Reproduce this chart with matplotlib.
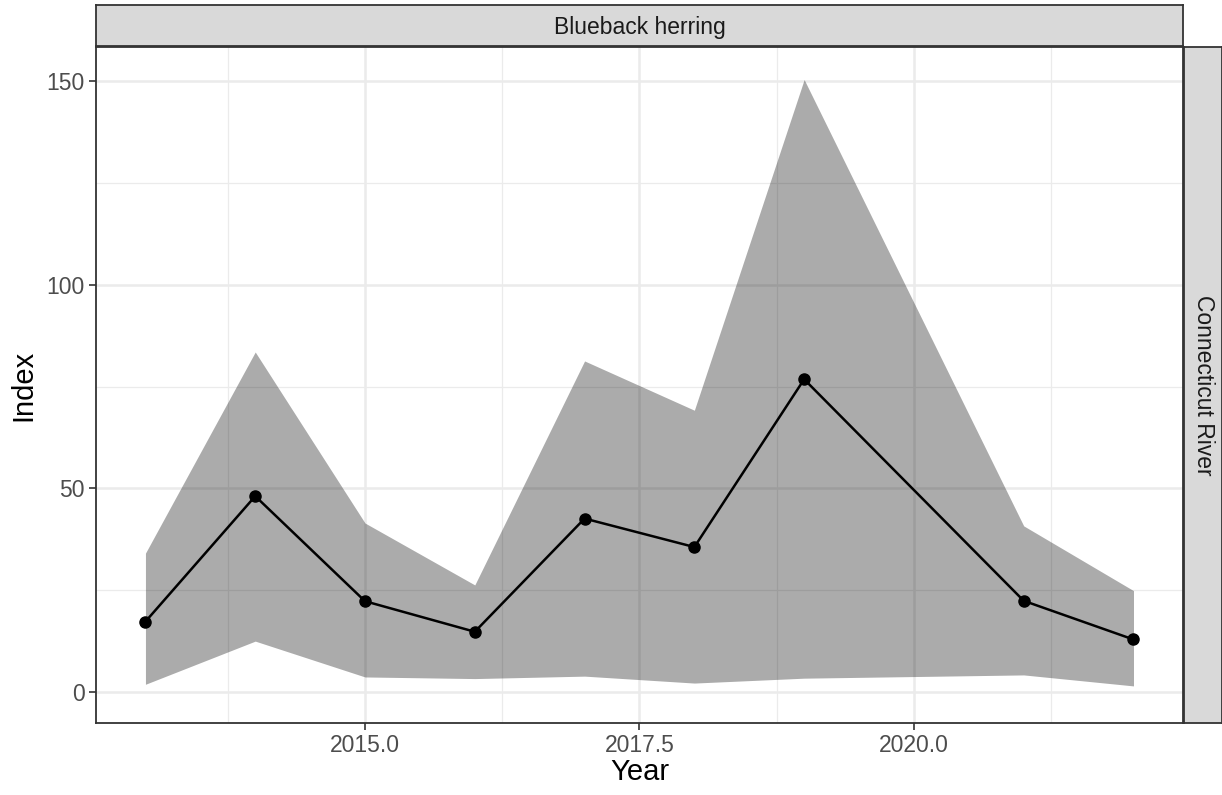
import numpy as np
import matplotlib.pyplot as plt
from matplotlib.ticker import FixedLocator, FormatStrFormatter

plt.rcParams['font.family'] = ['Liberation Sans', 'DejaVu Sans']

# Data
years = [2013, 2014, 2015, 2016, 2017, 2018, 2019, 2021, 2022]
index = [17.3, 48.1, 22.3, 14.8, 42.6, 35.6, 76.8, 22.4, 12.9]
upper = [34.1, 83.5, 41.5, 26.3, 81.3, 69.2, 150.4, 40.8, 24.9]
lower = [1.9, 12.5, 3.7, 3.3, 3.9, 2.2, 3.4, 4.2, 1.5]
species = 'Blueback herring'
river = 'Connecticut River'

fig = plt.figure(figsize=(12.22, 7.95), dpi=100)
ax = fig.add_axes([0.0786, 0.0906, 0.8894, 0.8503])

# ribbon + line + points
ax.fill_between(years, lower, upper, color='black', alpha=0.33, linewidth=0, zorder=2)
ax.plot(years, index, color='black', lw=1.8, zorder=3)
ax.plot(years, index, 'o', color='black', ms=8, zorder=4)

ax.set_xlim(2012.55, 2022.45)
ax.set_ylim(-7.6, 158.4)

ax.xaxis.set_major_locator(FixedLocator([2015, 2017.5, 2020]))
ax.xaxis.set_minor_locator(FixedLocator([2013.75, 2016.25, 2018.75, 2021.25]))
ax.yaxis.set_major_locator(FixedLocator([0, 50, 100, 150]))
ax.yaxis.set_minor_locator(FixedLocator([25, 75, 125]))
ax.xaxis.set_major_formatter(FormatStrFormatter('%.1f'))
ax.yaxis.set_major_formatter(FormatStrFormatter('%d'))

ax.grid(which='major', color='#EBEBEB', lw=1.8, zorder=0)
ax.grid(which='minor', color='#EBEBEB', lw=0.9, zorder=0)
ax.set_axisbelow(True)

ax.tick_params(which='major', direction='out', length=5, width=1.2, color='#333333',
               labelsize=16.5, labelcolor='#4D4D4D', pad=3)
ax.tick_params(which='minor', length=0)
for s in ax.spines.values():
    s.set_color('#333333')
    s.set_linewidth(1.3)

ax.set_xlabel('Year', fontsize=21, labelpad=1)
ax.set_ylabel('Index', fontsize=21, labelpad=7)

# facet strips
top = fig.add_axes([0.0786, 0.942, 0.8894, 0.052])
right = fig.add_axes([0.969, 0.0906, 0.031, 0.8503])
for sa in (top, right):
    sa.set_xticks([])
    sa.set_yticks([])
    sa.set_facecolor('#D9D9D9')
    for s in sa.spines.values():
        s.set_color('#333333')
        s.set_linewidth(1.3)
top.text(0.5, 0.45, species, ha='center', va='center', fontsize=16.5, color='#1A1A1A',
         transform=top.transAxes)
right.text(0.5, 0.5, river, ha='center', va='center', fontsize=16.5, color='#1A1A1A',
           rotation=-90, transform=right.transAxes)

plt.savefig('out.png', dpi=100)
plt.close()
